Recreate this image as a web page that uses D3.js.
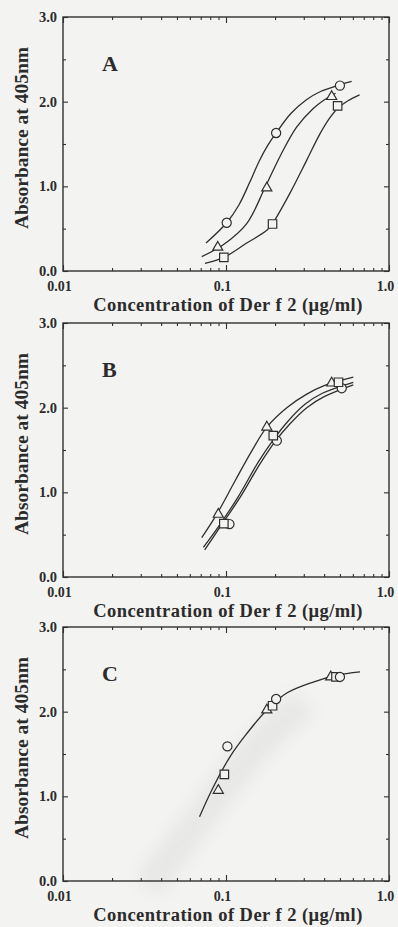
<!DOCTYPE html>
<html>
<head>
<meta charset="utf-8">
<script src="https://cdn.jsdelivr.net/npm/d3@7"></script>
<style>
  html, body { margin: 0; padding: 0; background: #f3f3f1; }
  svg { display: block; }
  text { font-family: "Liberation Serif", "Times New Roman", serif; font-weight: bold; fill: #2b2b2b; }
</style>
</head>
<body>
<svg id="fig" width="398" height="927"></svg>
<script>
// ---- axis ticks and labels ----
const xTickValues = [0.01, 0.1, 1];
const xTickLabels = ["0.01", "0.1", "1.0"];
const yTickValues = [0, 1, 2, 3];
const yTickLabels = ["0.0", "1.0", "2.0", "3.0"];
const panelLetters = ["A", "B", "C"];
const xTitle = "Concentration of Der f 2 (\u03bcg/ml)";
const yTitle = "Absorbance at 405nm";

// ---- panel A: measured points ----
const aCircleX = [0.101, 0.203, 0.50];
const aCircleY = [0.57, 1.63, 2.19];
const aTriangleX = [0.089, 0.178, 0.445];
const aTriangleY = [0.28, 0.98, 2.06];
const aSquareX = [0.097, 0.193, 0.484];
const aSquareY = [0.16, 0.555, 1.95];
// panel A: fitted curves
const aCircleFitX = [0.0754, 0.101, 0.12, 0.14, 0.16, 0.18, 0.203, 0.25, 0.31, 0.38, 0.50, 0.59];
const aCircleFitY = [0.33, 0.57, 0.78, 1.05, 1.30, 1.48, 1.63, 1.86, 2.02, 2.12, 2.20, 2.24];
const aTriangleFitX = [0.071, 0.0962, 0.134, 0.173, 0.214, 0.271, 0.343, 0.40, 0.47];
const aTriangleFitY = [0.17, 0.31, 0.56, 0.98, 1.35, 1.70, 1.92, 2.02, 2.10];
const aSquareFitX = [0.0743, 0.097, 0.134, 0.178, 0.193, 0.247, 0.313, 0.377, 0.43, 0.484, 0.56, 0.66];
const aSquareFitY = [0.09, 0.16, 0.33, 0.48, 0.56, 0.92, 1.31, 1.62, 1.80, 1.92, 2.01, 2.08];

// ---- panel B: measured points ----
const bTriangleX = [0.0897, 0.178, 0.445];
const bTriangleY = [0.74, 1.77, 2.29];
const bSquareX = [0.097, 0.195, 0.49];
const bSquareY = [0.63, 1.67, 2.30];
const bCircleX = [0.105, 0.205, 0.513];
const bCircleY = [0.625, 1.61, 2.23];
// panel B: fitted curves
const bTriangleFitX = [0.071, 0.0877, 0.114, 0.144, 0.178, 0.236, 0.313, 0.40, 0.604];
const bTriangleFitY = [0.466, 0.74, 1.14, 1.49, 1.77, 2.00, 2.16, 2.26, 2.36];
const bSquareFitX = [0.0726, 0.0895, 0.119, 0.158, 0.195, 0.24, 0.305, 0.39, 0.604];
const bSquareFitY = [0.35, 0.59, 0.95, 1.36, 1.62, 1.84, 2.04, 2.17, 2.30];
const bCircleFitX = [0.074, 0.0916, 0.122, 0.162, 0.20, 0.247, 0.313, 0.40, 0.604];
const bCircleFitY = [0.32, 0.585, 0.94, 1.34, 1.60, 1.81, 2.00, 2.13, 2.27];

// ---- panel C: measured points ----
const cCircleX = [0.102, 0.203, 0.50];
const cCircleY = [1.59, 2.15, 2.41];
const cSquareX = [0.0977, 0.193, 0.473];
const cSquareY = [1.26, 2.07, 2.41];
const cTriangleX = [0.0897, 0.178, 0.439];
const cTriangleY = [1.07, 2.02, 2.41];
// panel C: single fitted curve
const cFitX = [0.0688, 0.0836, 0.106, 0.134, 0.178, 0.236, 0.343, 0.478, 0.664];
const cFitY = [0.76, 1.11, 1.47, 1.74, 2.02, 2.22, 2.35, 2.43, 2.47];

const panels = [
  {
    letter: panelLetters[0],
    points: [
      { shape: "circle", x: aCircleX, y: aCircleY },
      { shape: "triangle", x: aTriangleX, y: aTriangleY },
      { shape: "square", x: aSquareX, y: aSquareY }
    ],
    fits: [
      { x: aCircleFitX, y: aCircleFitY },
      { x: aTriangleFitX, y: aTriangleFitY },
      { x: aSquareFitX, y: aSquareFitY }
    ]
  },
  {
    letter: panelLetters[1],
    points: [
      { shape: "circle", x: bCircleX, y: bCircleY },
      { shape: "triangle", x: bTriangleX, y: bTriangleY },
      { shape: "square", x: bSquareX, y: bSquareY }
    ],
    fits: [
      { x: bTriangleFitX, y: bTriangleFitY },
      { x: bSquareFitX, y: bSquareFitY },
      { x: bCircleFitX, y: bCircleFitY }
    ]
  },
  {
    letter: panelLetters[2],
    points: [
      { shape: "triangle", x: cTriangleX, y: cTriangleY },
      { shape: "square", x: cSquareX, y: cSquareY },
      { shape: "circle", x: cCircleX, y: cCircleY }
    ],
    fits: [
      { x: cFitX, y: cFitY }
    ],
    smudge: true
  }
];

// ---- layout ----
const W = 398, H = 927;
const plotLeft = 63, plotRight = 389, plotH = 254;
const panelTops = [17, 323, 627];
const bg = "#f3f3f1";
const ink = "#2f2f2f";

const svg = d3.select("#fig");
svg.append("rect").attr("width", W).attr("height", H).attr("fill", bg);

const defs = svg.append("defs");
defs.append("filter").attr("id", "soft").attr("x", "-50%").attr("y", "-50%")
  .attr("width", "200%").attr("height", "200%")
  .append("feGaussianBlur").attr("stdDeviation", 9);

const minorX = [];
[0.01, 0.1].forEach(d => { for (let k = 2; k <= 9; k++) minorX.push(d * k); });
const minorY = [0.5, 1.5, 2.5];

const symbolType = { circle: d3.symbolCircle, square: d3.symbolSquare, triangle: d3.symbolTriangle };
const symbolSize = { circle: 66, square: 72, triangle: 44 };

panels.forEach((p, i) => {
  const top = panelTops[i];
  const bottom = top + plotH;
  const x = d3.scaleLog().domain([0.01, 1]).range([plotLeft, plotRight]);
  const y = d3.scaleLinear().domain([0, 3]).range([bottom, top]);
  const g = svg.append("g");

  // faint scanner smudge inside panel C
  if (p.smudge) {
    const pw = plotRight - plotLeft;
    g.append("path")
      .attr("d", d3.line().curve(d3.curveBasis)([
        [plotLeft + 0.26 * pw, top + 1.02 * plotH],
        [plotLeft + 0.44 * pw, top + 0.72 * plotH],
        [plotLeft + 0.60 * pw, top + 0.45 * plotH],
        [plotLeft + 0.74 * pw, top + 0.30 * plotH]
      ]))
      .attr("fill", "none").attr("stroke", "#000").attr("stroke-opacity", 0.05)
      .attr("stroke-width", 28).attr("filter", "url(#soft)");
  }

  // tick marks on all four sides, pointing inward
  const styleAxis = sel => {
    sel.select(".domain").remove();
    sel.selectAll(".tick line").attr("stroke", ink).attr("stroke-width", 1.1);
  };
  g.append("g").attr("transform", `translate(0,${bottom})`)
    .call(d3.axisBottom(x).tickValues(minorX).tickSize(-3).tickFormat(""))
    .call(styleAxis);
  g.append("g").attr("transform", `translate(0,${top})`)
    .call(d3.axisTop(x).tickValues(minorX).tickSize(-3).tickFormat(""))
    .call(styleAxis);
  g.append("g").attr("transform", `translate(0,${top})`)
    .call(d3.axisTop(x).tickValues(xTickValues).tickSize(-6).tickFormat(""))
    .call(styleAxis);
  const xb = g.append("g").attr("transform", `translate(0,${bottom})`)
    .call(d3.axisBottom(x).tickValues(xTickValues).tickSize(-6).tickPadding(10)
      .tickFormat((d, k) => xTickLabels[k]))
    .call(styleAxis);
  xb.selectAll(".tick text").attr("font-size", 14).attr("fill", "#2b2b2b")
    .attr("font-family", null).attr("dx", -4);

  g.append("g").attr("transform", `translate(${plotRight},0)`)
    .call(d3.axisRight(y).tickValues(minorY).tickSize(-3).tickFormat(""))
    .call(styleAxis);
  g.append("g").attr("transform", `translate(${plotRight},0)`)
    .call(d3.axisRight(y).tickValues(yTickValues).tickSize(-5).tickFormat(""))
    .call(styleAxis);
  g.append("g").attr("transform", `translate(${plotLeft},0)`)
    .call(d3.axisLeft(y).tickValues(minorY).tickSize(-3).tickFormat(""))
    .call(styleAxis);
  const yl = g.append("g").attr("transform", `translate(${plotLeft},0)`)
    .call(d3.axisLeft(y).tickValues(yTickValues).tickSize(-5).tickPadding(6)
      .tickFormat((d, k) => yTickLabels[k]))
    .call(styleAxis);
  yl.selectAll(".tick text").attr("font-size", 14.5).attr("fill", "#2b2b2b")
    .attr("font-family", null);

  // frame
  g.append("rect")
    .attr("x", plotLeft).attr("y", top)
    .attr("width", plotRight - plotLeft).attr("height", plotH)
    .attr("fill", "none").attr("stroke", ink).attr("stroke-width", 1.4);

  // fitted curves
  const line = d3.line().x(d => x(d[0])).y(d => y(d[1])).curve(d3.curveCatmullRom.alpha(0.5));
  p.fits.forEach(f => {
    g.append("path")
      .datum(f.x.map((v, k) => [v, f.y[k]]))
      .attr("d", line)
      .attr("fill", "none").attr("stroke", ink).attr("stroke-width", 1.3);
  });

  // open markers
  p.points.forEach(s => {
    g.selectAll(null)
      .data(s.x.map((v, k) => [v, s.y[k]]))
      .join("path")
      .attr("transform", d => `translate(${x(d[0])},${y(d[1])})`)
      .attr("d", d3.symbol().type(symbolType[s.shape]).size(symbolSize[s.shape]))
      .attr("fill", bg).attr("stroke", ink).attr("stroke-width", 1.2);
  });

  // panel letter
  g.append("text").attr("x", 102).attr("y", top + 54)
    .attr("font-size", 22).text(p.letter);

  // axis titles
  g.append("text").attr("x", 228).attr("y", bottom + 40)
    .attr("text-anchor", "middle").attr("font-size", 18.5)
    .attr("letter-spacing", 0.45).text(xTitle);
  g.append("text")
    .attr("transform", `translate(28,${top + plotH / 2 - 6}) rotate(-90)`)
    .attr("text-anchor", "middle").attr("font-size", 19.5).text(yTitle);
});
</script>
</body>
</html>
